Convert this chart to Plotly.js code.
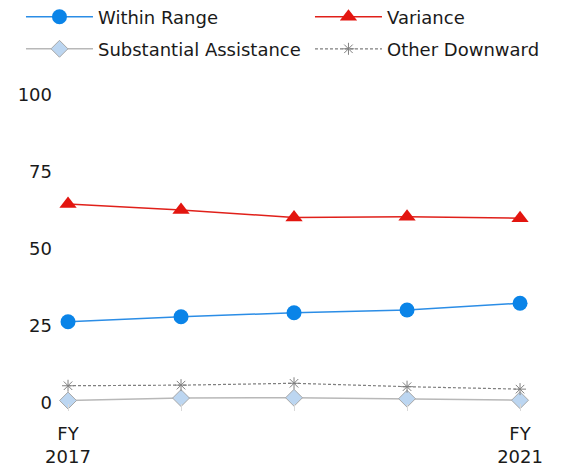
<!DOCTYPE html>
<html>
<head>
<meta charset="utf-8">
<script src="https://cdn.plot.ly/plotly-3.0.1.min.js"></script>
<style>html,body{margin:0;padding:0;background:#fff;}#chart{width:571px;height:469px;}</style>
</head>
<body>
<div id="chart"></div>
<script>
const categories = ['FY 2017','FY 2018','FY 2019','FY 2020','FY 2021'];
const tickLabels = ['FY<br>2017','','','','FY<br>2021'];
const withinRange = [26.4, 28.0, 29.3, 30.2, 32.4];
const variance = [64.6, 62.7, 60.2, 60.5, 60.0];
const substantialAssistance = [0.8, 1.6, 1.7, 1.4, 0.9];
const otherDownward = [5.6, 5.8, 6.4, 5.3, 4.5];
const yTicks = [0, 25, 50, 75, 100];

const FONT = 'DejaVu Sans, sans-serif';

const traces = [
  {name:'Within Range', x:categories, y:withinRange, mode:'lines+markers', legend:'legend',
   line:{color:'#2b8de6', width:1.5},
   marker:{symbol:'circle', size:15, color:'#0a84e8'}, cliponaxis:false},
  {name:'Variance', x:categories, y:variance, mode:'lines+markers', legend:'legend2',
   line:{color:'#e0201a', width:1.5},
   marker:{symbol:'triangle-up', size:15, color:'#e3150f'}, cliponaxis:false},
  {name:'Substantial Assistance', x:categories, y:substantialAssistance, mode:'lines+markers', legend:'legend3',
   line:{color:'#b8b8b8', width:1.5},
   marker:{symbol:'diamond', size:13, color:'#bcd6f1', line:{color:'#a8a8a8', width:1}}, cliponaxis:false},
  {name:'Other Downward', x:categories, y:otherDownward, mode:'lines+markers', legend:'legend4',
   line:{color:'#7f7f7f', width:1.2, dash:'3px,2px'},
   marker:{symbol:'asterisk-open', size:10, color:'#808080', line:{color:'#808080', width:1}}, cliponaxis:false}
];

const legendBase = {orientation:'h', xanchor:'left', yanchor:'middle',
          font:{family:FONT, size:18, color:'#1a1a1a'},
          itemwidth:67, bgcolor:'rgba(0,0,0,0)', borderwidth:0};
const col1 = -0.0643, col2 = 0.516, row1 = 1.253, row2 = 1.149;

const layout = {
  width:571, height:469,
  margin:{l:53, r:20, t:95, b:66, autoexpand:false},
  paper_bgcolor:'#fff', plot_bgcolor:'#fff',
  font:{family:FONT, size:18, color:'#1a1a1a'},
  showlegend:true,
  legend:Object.assign({}, legendBase, {x:col1, y:row1}),
  legend2:Object.assign({}, legendBase, {x:col2, y:row1}),
  legend3:Object.assign({}, legendBase, {x:col1, y:row2}),
  legend4:Object.assign({}, legendBase, {x:col2, y:row2}),
  xaxis:{type:'category', range:[-0.133, 4.274], tickmode:'array', tickvals:categories, ticktext:tickLabels,
         ticks:'outside', ticklen:7, tickcolor:'#d9d9d9', tickwidth:1, showgrid:false, showline:false, zeroline:false,
         ticklabelstandoff:7, tickfont:{family:FONT, size:18, color:'#1a1a1a'}, fixedrange:true},
  yaxis:{range:[0,100], tickmode:'array', tickvals:yTicks, showgrid:false, showline:false, zeroline:false,
         ticks:'', tickfont:{family:FONT, size:18, color:'#1a1a1a'}, fixedrange:true}
};

Plotly.newPlot('chart', traces, layout, {displayModeBar:false, staticPlot:true});
</script>
</body>
</html>
